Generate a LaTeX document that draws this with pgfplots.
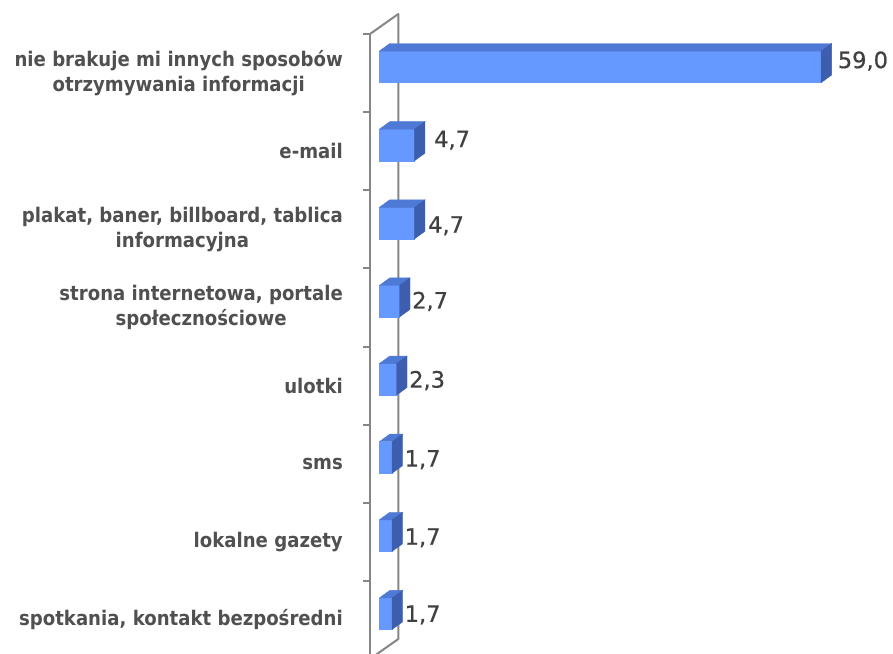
\documentclass[border=0pt]{standalone}
\usepackage{pgfplots}
\pgfplotsset{compat=1.18}
\usepackage{pgfplotstable}
\usepackage{fontspec}
\setmainfont{DejaVu Sans}
\newfontfamily\labfont[FakeStretch=0.9]{DejaVu Sans}
\newfontfamily\numfont[FakeBold=0.6]{DejaVu Sans}
\definecolor{barfront}{HTML}{6699FF}
\definecolor{bartop}{HTML}{4E7AD6}
\definecolor{barside}{HTML}{3D5DAE}
\definecolor{wallgray}{HTML}{868686}
\definecolor{labgray}{HTML}{505050}
\definecolor{numgray}{HTML}{404040}
\pgfdeclareplotmark{none3d}{}

\pgfplotstableread{
y v lx ly
7 59.0 6 12
6 4.7 9 11
5 4.7 3 3.5
4 2.7 2 6
3 2.3 2 5
2 1.7 2 4
1 1.7 2 4
0 1.7 2 5
}\bardata

\begin{document}
\begin{tikzpicture}
\useasboundingbox (0,0) rectangle (893bp,-654bp);
\begin{axis}[
  at={(370bp,-34bp)}, anchor=north west,
  scale only axis, width=523bp, height=625bp,
  xmin=-1.24, xmax=68.59, ymin=-0.5, ymax=7.5,
  axis x line=none, axis y line*=left,
  axis line style={wallgray, line width=2bp},
  ytick={0,...,7},
  yticklabels={{spotkania, kontakt bezpośredni},{lokalne gazety},{sms},{ulotki},{strona internetowa, portale\\społecznościowe},{plakat, baner, billboard, tablica\\informacyjna},{e-mail},{nie brakuje mi innych sposobów\\otrzymywania informacji}},
  minor ytick={-0.5,0.5,...,7.5},
  major tick length=0pt, minor tick length=7bp,
  tick align=outside, ytick pos=left,
  minor tick style={wallgray,line width=2bp},
  major tick style={draw=none},
  yticklabel style={anchor=east, inner sep=0pt, xshift=-27bp, align=center, font=\labfont\bfseries\fontsize{20.2}{25}\selectfont, text=labgray},
  clip=false,
]
\draw[wallgray, line width=2bp, line join=round] (axis description cs:0,1) -- ++(28.3bp,20bp) -- ++(0bp,-625bp) -- ++(-28.3bp,-20bp);
\addplot[only marks, mark=none3d, scatter, point meta=x,
  visualization depends on={\thisrow{v} \as \barval},
  visualization depends on={\thisrow{lx} \as \lblx},
  visualization depends on={\thisrow{ly} \as \lbly},
  scatter/@pre marker code/.code={
    \pgfmathsetmacro\barlen{\barval*7.4896}
    \pgfmathsetmacro\lblxx{10.5+\lblx}
    \fill[barfront] (-\barlen bp,-9.55bp) rectangle (0bp,21.95bp);
    \fill[bartop] (-\barlen bp,21.95bp) -- (0bp,21.95bp) -- (10.5bp,29.55bp) -- (-\barlen bp+10.5bp,29.55bp) -- cycle;
    \fill[barside] (0bp,-9.55bp) -- (0bp,21.95bp) -- (10.5bp,29.55bp) -- (10.5bp,-1.95bp) -- cycle;
    \node[anchor=west, inner sep=0pt, font=\numfont\fontsize{22.6}{26}\selectfont, text=numgray] at (\lblxx bp,\lbly bp) {\pgfmathprintnumber[use comma,fixed,fixed zerofill,precision=1,assume math mode=true]{\barval}};
  },
  scatter/@post marker code/.code={},
] table[x=v,y=y] {\bardata};
\end{axis}
\end{tikzpicture}
\end{document}
